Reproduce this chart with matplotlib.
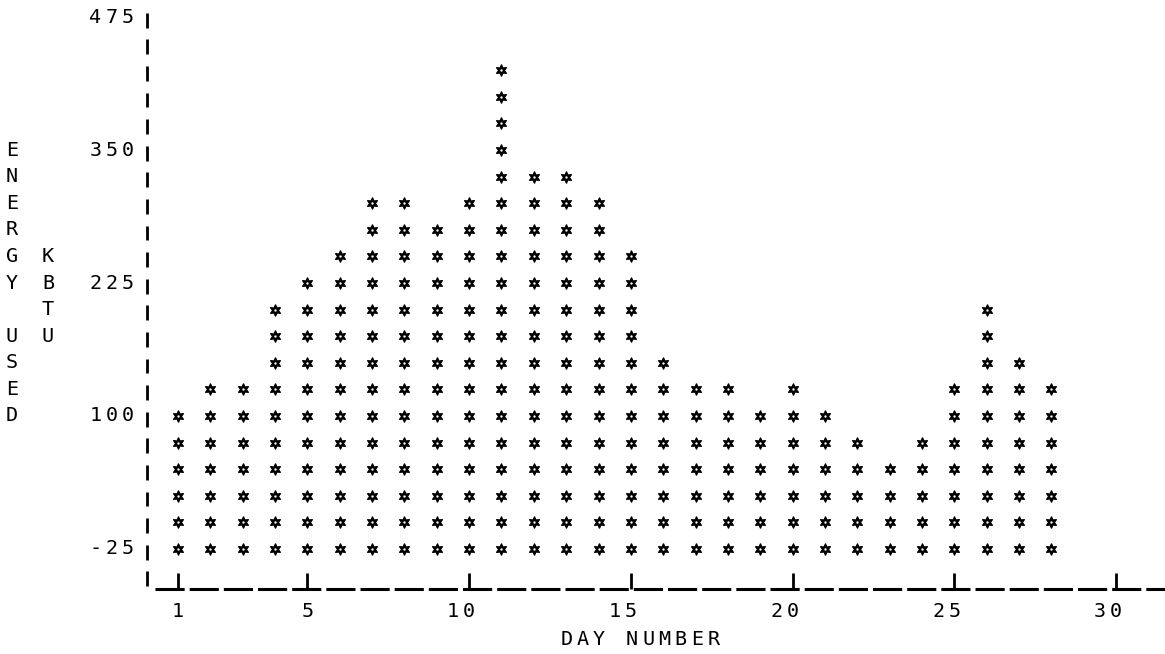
import numpy as np
import matplotlib
matplotlib.use("Agg")
import matplotlib.pyplot as plt
import matplotlib.transforms as mtransforms

# energy used per day (KBTU)
days = np.arange(1, 29)
energy = [100, 125, 125, 200, 225, 250, 300, 300, 275, 300, 425, 325, 325, 300,
          250, 150, 125, 125, 100, 125, 100, 75, 50, 75, 125, 200, 150, 125]
row_step = 25
y_ticks = [475, 350, 225, 100, -25]
x_ticks = [1, 5, 10, 15, 20, 25, 30]
y_label1 = "ENERGY USED"
y_label2 = "KBTU"
x_label = "DAY NUMBER"

plt.rcParams['lines.scale_dashes'] = False
FONT = dict(family="DejaVu Sans Mono", fontsize=14.5, color="black")

fig = plt.figure(figsize=(11.65, 6.54), dpi=100)
ax = fig.add_axes([0, 0, 1, 1])
ax.set_xlim(-4.502, 31.51)
ax.set_ylim(-123.7, 491.0)
ax.axis("off")


def spaced_text(x, y, s, pitch=16.3, ha="center"):
    # line printer text: every character sits on a fixed pitch (in pixels)
    n = len(s)
    if ha == "center":
        offs = [(i - (n - 1) / 2) * pitch for i in range(n)]
    else:  # last char centred on x
        offs = [-(n - 1 - i) * pitch for i in range(n)]
    for ch, o in zip(s, offs):
        if ch == " ":
            continue
        tr = mtransforms.offset_copy(ax.transData, fig=fig, x=o, y=0, units="dots")
        ax.text(x, y, ch, transform=tr, ha="center", va="center", **FONT)


# star columns (printed "*" glyphs look like little filled flowers)
for d, v in zip(days, energy):
    rows = np.arange(-25, v + 1, row_step)
    xs = np.full(len(rows), d)
    ax.plot(xs, rows, ls="none", marker="h", ms=5.2, color="black", mew=0)
    ax.plot(xs, rows, ls="none", marker=(6, 1, 0), ms=8.5, color="black", mew=0.8)
    ax.plot(xs, rows, ls="none", marker="o", ms=1.7, color="white", mew=0)

# y axis made of "|" characters
axis_x = 0.042
rows = np.arange(-50, 476, row_step)
ax.vlines(np.full(len(rows), axis_x), rows - 3 - 7, rows - 3 + 7, color="black", lw=2.0)

# x axis made of "_" characters with "|" ticks
base = -62.6
ax.plot([0.29, 31.51], [base, base], color="black", lw=2.2, dashes=(21, 3.6))
ax.vlines(x_ticks, base, base + 15, color="black", lw=2.0)

for t in y_ticks:
    spaced_text(-0.546, t, str(t), ha="right")
for t in x_ticks:
    spaced_text(t, -84.2, str(t), ha="right")

spaced_text(15.28, -110.5, x_label)

for i, ch in enumerate(y_label1):
    if ch != " ":
        ax.text(-4.13, 350 - row_step * i, ch, ha="center", va="center", **FONT)
for i, ch in enumerate(y_label2):
    ax.text(-3.02, 250 - row_step * i, ch, ha="center", va="center", **FONT)

plt.savefig("out.png", dpi=100)
